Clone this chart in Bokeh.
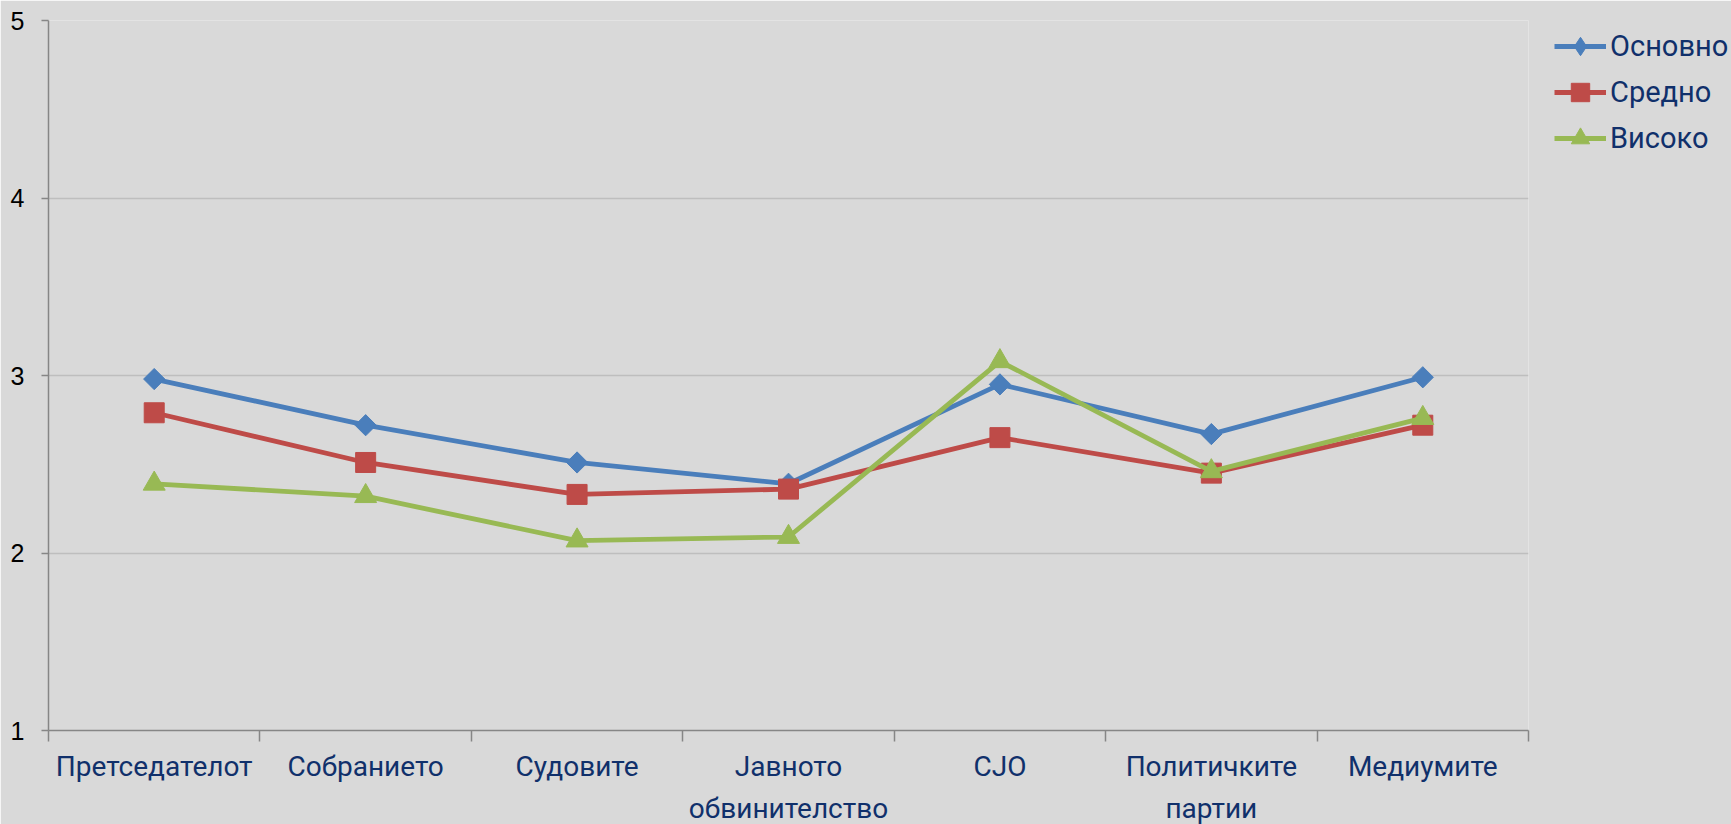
import math
from bokeh.plotting import figure
from bokeh.models import Range1d, FixedTicker, Legend, LegendItem, ColumnDataSource
from bokeh.embed import file_html
from bokeh.resources import INLINE

categories = ["Претседателот", "Собранието", "Судовите", "Јавното\nобвинителство",
              "СЈО", "Политичките\nпартии", "Медиумите"]
osnovno = [2.98, 2.72, 2.51, 2.39, 2.95, 2.67, 2.99]
sredno = [2.79, 2.51, 2.33, 2.36, 2.65, 2.45, 2.72]
visoko = [2.39, 2.32, 2.07, 2.09, 3.08, 2.46, 2.76]
series_names = ["Основно", "Средно", "Високо"]
y_ticks = [1, 2, 3, 4, 5]

BG = "#D9D9D9"
AXIS = "#868686"
GRID = "#BEBEBE"
LABEL_BLUE = "#10306B"

n = len(categories)
xs = [i + 0.5 for i in range(n)]

p = figure(frame_width=1480, frame_height=710,
           x_range=Range1d(0, n), y_range=Range1d(y_ticks[0], y_ticks[-1]),
           output_backend="svg", toolbar_location=None,
           min_border_left=48, min_border_top=20, min_border_bottom=0, min_border_right=195,
           background_fill_color=BG, border_fill_color=BG)
p.outline_line_color = None
p.xgrid.visible = False
p.ygrid.grid_line_color = GRID
p.ygrid.grid_line_width = 1.5

# x axis: labels at category centres, tick marks between categories
xa = p.xaxis[0]
xa.ticker = FixedTicker(ticks=xs, minor_ticks=list(range(n + 1)))
xa.major_label_overrides = {x: c for x, c in zip(xs, categories)}
xa.major_tick_line_color = None
xa.major_tick_out = 11
xa.major_tick_in = 0
xa.minor_tick_line_color = AXIS
xa.minor_tick_line_width = 1.5
xa.minor_tick_out = 11
xa.minor_tick_in = 0
xa.axis_line_color = AXIS
xa.axis_line_width = 1.5
xa.major_label_standoff = 8
xa.major_label_text_font = "Roboto"
xa.major_label_text_font_size = "28px"
xa.major_label_text_color = LABEL_BLUE
xa.major_label_text_line_height = 1.3

ya = p.yaxis[0]
ya.ticker = FixedTicker(ticks=y_ticks, minor_ticks=[])
ya.major_tick_line_color = AXIS
ya.major_tick_line_width = 1.5
ya.major_tick_out = 7
ya.major_tick_in = 0
ya.axis_line_color = AXIS
ya.axis_line_width = 1.5
ya.major_label_standoff = 17
ya.major_label_text_font = "Liberation Sans"
ya.major_label_text_font_size = "25px"
ya.major_label_text_color = "black"

src = ColumnDataSource(dict(x=xs, osnovno=osnovno, sredno=sredno, visoko=visoko))

styles = [
    ("osnovno", "#4A7EBB", "square", 15, math.pi / 4, "diamond"),
    ("sredno", "#BE4B48", "square", 20, 0.0, None),
    ("visoko", "#98B954", "triangle", 22, 0.0, None),
]
items = []
for (col, color, marker, size, ang, legend_marker), name in zip(styles, series_names):
    ln = p.line("x", col, source=src, line_color=color, line_width=4.8)
    sc = p.scatter("x", col, source=src, marker=marker, size=size, angle=ang,
                   fill_color=color, line_color=color)
    if legend_marker is not None:
        # legend-only proxy (not drawn in the plot) so the key shows a diamond,
        # since the legend ignores the marker angle
        proxy = p.scatter(x=[math.nan], y=[math.nan], marker=legend_marker, size=size,
                          fill_color=color, line_color=color)
        items.append(LegendItem(label=name, renderers=[ln, proxy]))
    else:
        items.append(LegendItem(label=name, renderers=[ln, sc]))

legend = Legend(items=items, location=(26, 569))
legend.background_fill_alpha = 0
legend.border_line_color = None
legend.label_text_font = "Roboto"
legend.label_text_font_size = "29px"
legend.label_text_color = LABEL_BLUE
legend.glyph_width = 52
legend.glyph_height = 46
legend.label_height = 46
legend.spacing = 0
legend.padding = 0
legend.margin = 0
legend.label_standoff = 4
p.add_layout(legend, "right")

open("out.html", "w").write(file_html(p, INLINE))
